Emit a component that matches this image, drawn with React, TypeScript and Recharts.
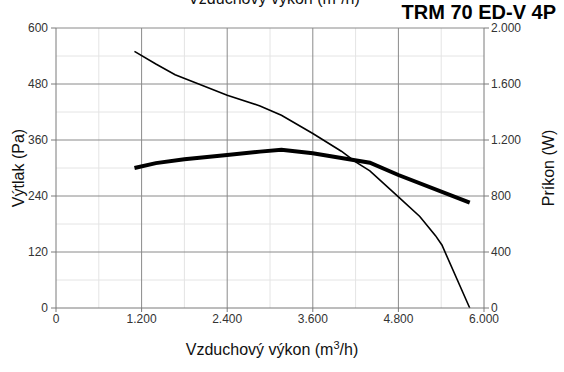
import { ComposedChart, Label, Line, ReferenceLine, XAxis, YAxis } from 'recharts'

// Vzduchový výkon (m3/h) vs. výtlak (Pa)
const pressure = [
  { q: 1100, pa: 550 },
  { q: 1400, pa: 523 },
  { q: 1670, pa: 500 },
  { q: 2000, pa: 480 },
  { q: 2400, pa: 456 },
  { q: 2860, pa: 433 },
  { q: 3160, pa: 413 },
  { q: 3600, pa: 374 },
  { q: 4000, pa: 336 },
  { q: 4200, pa: 313 },
  { q: 4400, pa: 294 },
  { q: 4800, pa: 238 },
  { q: 5100, pa: 196 },
  { q: 5320, pa: 155 },
  { q: 5410, pa: 135 },
  { q: 5800, pa: 0 },
]

// Vzduchový výkon (m3/h) vs. príkon (W)
const power = [
  { q: 1100, w: 1000 },
  { q: 1400, w: 1035 },
  { q: 1800, w: 1062 },
  { q: 2400, w: 1093 },
  { q: 2860, w: 1117 },
  { q: 3160, w: 1130 },
  { q: 3600, w: 1105 },
  { q: 4170, w: 1057 },
  { q: 4400, w: 1038 },
  { q: 4800, w: 950 },
  { q: 5800, w: 752 },
]

const xTicks = [0, 1200, 2400, 3600, 4800, 6000]
const xMinor = [600, 1800, 3000, 4200, 5400]
const paTicks = [0, 120, 240, 360, 480, 600]
const paMinor = [60, 180, 300, 420, 540]
const wTicks = [0, 400, 800, 1200, 1600, 2000]

const FONT = '"Liberation Sans", Arial, sans-serif'
const MAJOR = '#8a8a8a'
const MINOR = '#e4e4e4'
const AXIS = '#7a7a7a'
const TICK = { fill: '#333', fontSize: 12, fontFamily: FONT }

const fmt = (n: number) => String(n).replace(/\B(?=(\d{3})+(?!\d))/g, '.')

const XTitle = ({ viewBox }: any) => (
  <text
    x={viewBox.x + viewBox.width / 2 + 2}
    y={viewBox.y + 47}
    textAnchor="middle"
    fill="#111"
    fontSize={16}
    fontFamily={FONT}
  >
    <tspan>Vzduchový výkon (m</tspan>
    <tspan dy={-6} fontSize={11}>
      3
    </tspan>
    <tspan dy={6}>/h)</tspan>
  </text>
)

const sideTitle = (text: string, dx: number) => ({ viewBox }: any) => {
  const cx = viewBox.x + dx
  const cy = viewBox.y + viewBox.height / 2
  return (
    <text
      x={cx}
      y={cy}
      transform={`rotate(-90, ${cx}, ${cy})`}
      textAnchor="middle"
      dominantBaseline="central"
      fill="#111"
      fontSize={16}
      fontFamily={FONT}
    >
      {text}
    </text>
  )
}

export default function App() {
  return (
    <div
      style={{
        position: 'absolute',
        left: 0,
        top: 0,
        width: 564,
        height: 372,
        background: '#fff',
        overflow: 'hidden',
        fontFamily: FONT,
      }}
    >
      <div
        style={{
          position: 'absolute',
          left: 0,
          width: 548,
          top: -9,
          textAlign: 'center',
          fontSize: 16,
          lineHeight: '16px',
          color: '#111',
          whiteSpace: 'nowrap',
        }}
      >
        Vzduchový výkon (m³/h)
      </div>
      <ComposedChart
        width={564}
        height={372}
        margin={{ top: 28, right: 0, bottom: 0, left: 0 }}
      >
        <XAxis
          type="number"
          dataKey="q"
          domain={[0, 6000]}
          ticks={xTicks}
          tickFormatter={fmt}
          height={64}
          tickSize={4}
          tickMargin={2}
          tick={TICK}
          axisLine={{ stroke: AXIS }}
          tickLine={{ stroke: AXIS }}
          allowDataOverflow
        >
          <Label content={XTitle} />
        </XAxis>
        <YAxis
          yAxisId="pa"
          domain={[0, 600]}
          ticks={paTicks}
          width={56}
          tickSize={5}
          tickMargin={3}
          tick={TICK}
          axisLine={{ stroke: AXIS }}
          tickLine={{ stroke: AXIS }}
        >
          <Label content={sideTitle('Výtlak (Pa)', 18)} />
        </YAxis>
        <YAxis
          yAxisId="w"
          orientation="right"
          domain={[0, 2000]}
          ticks={wTicks}
          tickFormatter={fmt}
          width={80}
          tickSize={5}
          tickMargin={2}
          tick={TICK}
          axisLine={{ stroke: AXIS }}
          tickLine={{ stroke: AXIS }}
        >
          <Label content={sideTitle('Príkon (W)', 64)} />
        </YAxis>

        {xMinor.map((v) => (
          <ReferenceLine key={`xm${v}`} x={v} yAxisId="pa" stroke={MINOR} />
        ))}
        {paMinor.map((v) => (
          <ReferenceLine key={`ym${v}`} y={v} yAxisId="pa" stroke={MINOR} />
        ))}
        {xTicks.slice(1, -1).map((v) => (
          <ReferenceLine key={`xM${v}`} x={v} yAxisId="pa" stroke={MAJOR} />
        ))}
        {paTicks.slice(1).map((v) => (
          <ReferenceLine key={`yM${v}`} y={v} yAxisId="pa" stroke={MAJOR} />
        ))}

        <Line
          data={pressure}
          dataKey="pa"
          yAxisId="pa"
          type="linear"
          stroke="#000"
          strokeWidth={1.6}
          dot={false}
          activeDot={false}
          isAnimationActive={false}
        />
        <Line
          data={power}
          dataKey="w"
          yAxisId="w"
          type="linear"
          stroke="#000"
          strokeWidth={4}
          dot={false}
          activeDot={false}
          isAnimationActive={false}
        />
      </ComposedChart>
      <div
        style={{
          position: 'absolute',
          right: 8,
          top: 2,
          fontSize: 20,
          lineHeight: '20px',
          fontWeight: 'bold',
          color: '#000',
          whiteSpace: 'nowrap',
        }}
      >
        TRM 70 ED-V 4P
      </div>
    </div>
  )
}
